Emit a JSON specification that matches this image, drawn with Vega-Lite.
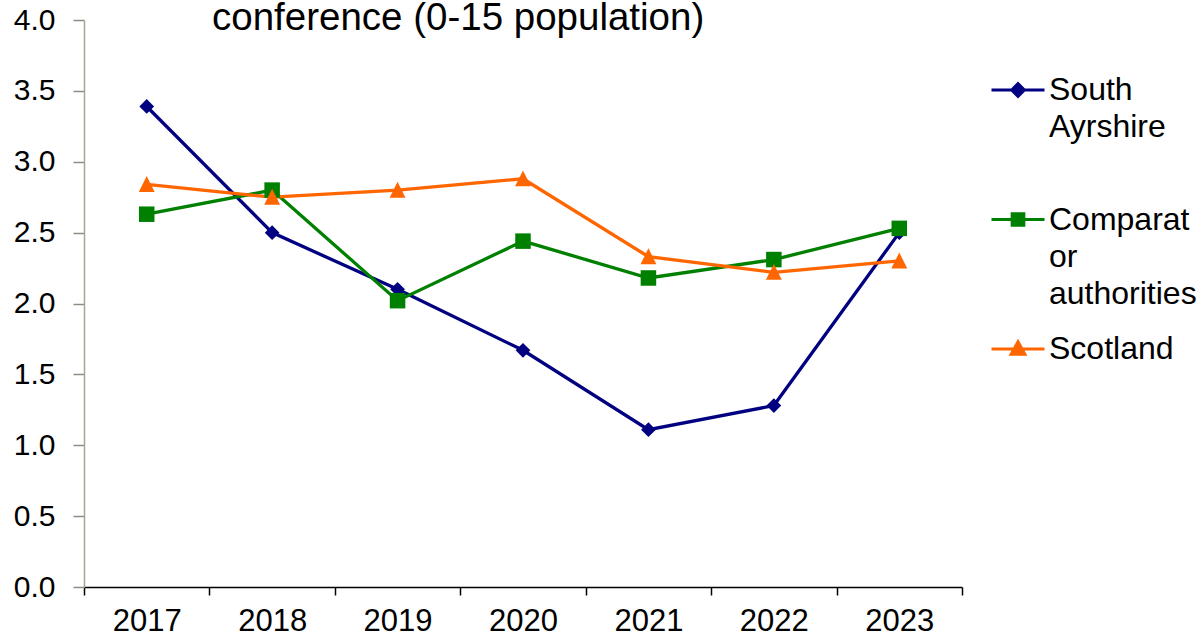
{
  "$schema": "https://vega.github.io/schema/vega-lite/v6.json",
  "width": 878,
  "height": 567,
  "autosize": "none",
  "padding": {"left": 84, "top": 20, "right": 237, "bottom": 53},
  "background": "white",
  "config": {
    "view": {"stroke": null},
    "font": "Liberation Sans"
  },
  "title": {
    "text": "conference (0-15 population)",
    "anchor": "start",
    "frame": "group",
    "dx": 128,
    "dy": 51,
    "offset": -12,
    "baseline": "alphabetic",
    "fontSize": 38.5,
    "fontWeight": "normal",
    "font": "Liberation Sans",
    "color": "black"
  },
  "data": {
    "values": [
      {"year": "2017", "series": "South Ayrshire", "value": 3.39},
      {"year": "2018", "series": "South Ayrshire", "value": 2.50},
      {"year": "2019", "series": "South Ayrshire", "value": 2.10},
      {"year": "2020", "series": "South Ayrshire", "value": 1.67},
      {"year": "2021", "series": "South Ayrshire", "value": 1.11},
      {"year": "2022", "series": "South Ayrshire", "value": 1.28},
      {"year": "2023", "series": "South Ayrshire", "value": 2.50},
      {"year": "2017", "series": "Comparator authorities", "value": 2.63},
      {"year": "2018", "series": "Comparator authorities", "value": 2.80},
      {"year": "2019", "series": "Comparator authorities", "value": 2.02},
      {"year": "2020", "series": "Comparator authorities", "value": 2.44},
      {"year": "2021", "series": "Comparator authorities", "value": 2.18},
      {"year": "2022", "series": "Comparator authorities", "value": 2.31},
      {"year": "2023", "series": "Comparator authorities", "value": 2.53},
      {"year": "2017", "series": "Scotland", "value": 2.84},
      {"year": "2018", "series": "Scotland", "value": 2.75},
      {"year": "2019", "series": "Scotland", "value": 2.80},
      {"year": "2020", "series": "Scotland", "value": 2.88},
      {"year": "2021", "series": "Scotland", "value": 2.33},
      {"year": "2022", "series": "Scotland", "value": 2.22},
      {"year": "2023", "series": "Scotland", "value": 2.30}
    ]
  },
  "encoding": {
    "x": {
      "field": "year",
      "type": "ordinal",
      "bandPosition": 0.5,
      "scale": {"type": "band", "paddingInner": 0, "paddingOuter": 0},
      "axis": {
        "title": null,
        "labelAngle": 0,
        "labelFontSize": 31,
        "labelFont": "Liberation Sans",
        "labelColor": "black",
        "labelPadding": 11,
        "tickBand": "extent",
        "tickSize": 8,
        "tickColor": "black",
        "tickWidth": 1.5,
        "domainColor": "black",
        "domainWidth": 1.5,
        "grid": false
      }
    },
    "y": {
      "field": "value",
      "type": "quantitative",
      "scale": {"domain": [0, 4], "nice": false},
      "axis": {
        "title": null,
        "values": [0, 0.5, 1, 1.5, 2, 2.5, 3, 3.5, 4],
        "format": ".1f",
        "labelFontSize": 30,
        "labelFont": "Liberation Sans",
        "labelColor": "black",
        "labelPadding": 18,
        "tickSize": 11,
        "tickColor": "#8c8c80",
        "tickWidth": 1.5,
        "domainColor": "#a8a494",
        "domainWidth": 1.5,
        "grid": false
      }
    },
    "color": {
      "field": "series",
      "type": "nominal",
      "sort": ["South Ayrshire", "Comparator authorities", "Scotland"],
      "scale": {
        "domain": ["South Ayrshire", "Comparator authorities", "Scotland"],
        "range": ["#000080", "#008000", "#ff6600"]
      },
      "legend": {
        "title": null,
        "orient": "none",
        "legendX": 906,
        "legendY": 42,
        "direction": "vertical",
        "columns": 1,
        "gridAlign": "all",
        "rowPadding": 11.5,
        "padding": 0,
        "symbolSize": 2809,
        "symbolStrokeWidth": 3,
        "labelOffset": 3,
        "labelFontSize": 32,
        "labelFont": "Liberation Sans",
        "labelColor": "black",
        "labelBaseline": "middle",
        "labelLimit": 300,
        "labelExpr": "datum.value == 'South Ayrshire' ? ['South', 'Ayrshire'] : datum.value == 'Comparator authorities' ? ['Comparat', 'or', 'authorities'] : datum.label",
        "encode": {
          "symbols": {
            "update": {
              "shape": {"signal": "datum.value == 'South Ayrshire' ? 'M-1,0H1M-0.24,0L0,-0.24L0.24,0L0,0.24Z' : datum.value == 'Comparator authorities' ? 'M-1,0H1M-0.22,-0.22H0.22V0.22H-0.22Z' : 'M-1,0H1M0,-0.27L0.26,0.2H-0.26Z'"},
              "stroke": {"signal": "scale('color', datum.value)"},
              "fill": {"signal": "scale('color', datum.value)"},
              "strokeWidth": {"value": 3},
              "opacity": {"value": 1}
            }
          },
          "labels": {
            "update": {
              "lineHeight": {"value": 37}
            }
          }
        }
      }
    }
  },
  "layer": [
    {
      "mark": {"type": "line", "strokeWidth": 3.3},
      "encoding": {"detail": {"field": "series"}}
    },
    {
      "transform": [{"filter": "datum.series == 'South Ayrshire'"}],
      "mark": {"type": "point", "filled": true, "opacity": 1, "size": 300, "shape": "M0,-0.85L0.85,0L0,0.85L-0.85,0Z"}
    },
    {
      "transform": [{"filter": "datum.series == 'Comparator authorities'"}],
      "mark": {"type": "point", "filled": true, "opacity": 1, "size": 256, "shape": "M-0.97,-0.97H0.97V0.97H-0.97Z"}
    },
    {
      "transform": [{"filter": "datum.series == 'Scotland'"}],
      "mark": {"type": "point", "filled": true, "opacity": 1, "size": 280, "shape": "M0,-1L0.95,0.9H-0.95Z"}
    }
  ]
}
